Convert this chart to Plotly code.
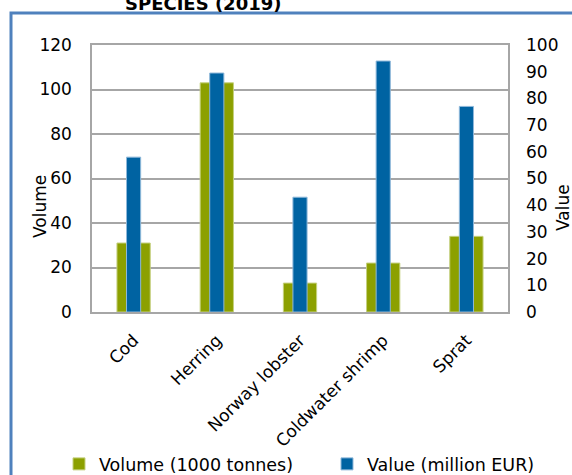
import plotly.graph_objects as go

categories = ["Cod", "Herring", "Norway lobster", "Coldwater shrimp", "Sprat"]
volume = [31, 103, 13, 22, 34]          # 1000 tonnes (left axis)
value = [58, 89.5, 43, 94, 77]          # million EUR (right axis)
left_ticks = [0, 20, 40, 60, 80, 100, 120]
right_ticks = [0, 10, 20, 30, 40, 50, 60, 70, 80, 90, 100]

GREEN = "#8CA000"
BLUE = "#0063A2"
FONT = "DejaVu Sans, Liberation Sans, Arial, sans-serif"
FS = 17

L, R, T, B = 92, 508, 45, 312
W, H = 572, 475
def px(x):
    return (x - L) / (R - L)
def py(y):
    return (B - y) / (B - T)

fig = go.Figure()
fig.add_trace(go.Bar(
    x=categories, y=volume, name="Volume (1000 tonnes)",
    marker=dict(color=GREEN, line=dict(color="#C5D07F", width=1)),
    width=0.4, yaxis="y", legend="legend"))
fig.add_trace(go.Bar(
    x=categories, y=value, name="Value (million EUR)",
    marker=dict(color=BLUE, line=dict(color="#8FB8DA", width=1)),
    width=0.17, yaxis="y2", legend="legend2"))

leg_common = dict(orientation="h", yanchor="middle", y=py(464), xanchor="left",
                  font=dict(size=17.5), bgcolor="rgba(0,0,0,0)", borderwidth=0)

fig.update_layout(
    width=W, height=H,
    margin=dict(l=L, r=W - R, t=T, b=H - B, autoexpand=False),
    paper_bgcolor="white", plot_bgcolor="white",
    barmode="overlay",
    font=dict(family=FONT, size=FS, color="#000000"),
    showlegend=True,
    legend=dict(x=px(59), **leg_common),
    legend2=dict(x=px(327), **leg_common),
    xaxis=dict(showline=True, linecolor="#A6A6A6", linewidth=1.5, mirror=True,
               tickangle=-45, ticks="", tickfont=dict(size=FS), automargin=False,
               ticklabelstandoff=10),
    yaxis=dict(range=[0, 120], tickvals=left_ticks, showgrid=True,
               gridcolor="#A6A6A6", gridwidth=1.5,
               showline=True, linecolor="#A6A6A6", linewidth=1.5, mirror=True,
               ticks="", zeroline=False, tickfont=dict(size=FS), automargin=False,
               ticklabelstandoff=15),
    yaxis2=dict(range=[0, 100], tickvals=right_ticks, overlaying="y", side="right",
                showgrid=False, zeroline=False, ticks="", tickfont=dict(size=FS),
                automargin=False, ticklabelstandoff=17),
    shapes=[dict(type="rect", xref="paper", yref="paper",
                 x0=px(11), x1=2.0, y0=-1.0, y1=py(13),
                 line=dict(color="#4F81BD", width=3), fillcolor="rgba(0,0,0,0)",
                 layer="above")],
    annotations=[
        dict(text="<b>SPECIES (2019)</b>", xref="paper", yref="paper",
             x=px(203), y=py(16), xanchor="center", yanchor="bottom",
             showarrow=False, font=dict(size=18, family=FONT)),
        dict(text="Volume", xref="paper", yref="paper", x=px(40), y=py(207),
             xanchor="center", yanchor="middle", textangle=-90,
             showarrow=False, font=dict(size=FS, family=FONT)),
        dict(text="Value", xref="paper", yref="paper", x=px(563), y=py(208),
             xanchor="center", yanchor="middle", textangle=-90,
             showarrow=False, font=dict(size=FS, family=FONT)),
    ],
)

fig.write_html("out.html")
